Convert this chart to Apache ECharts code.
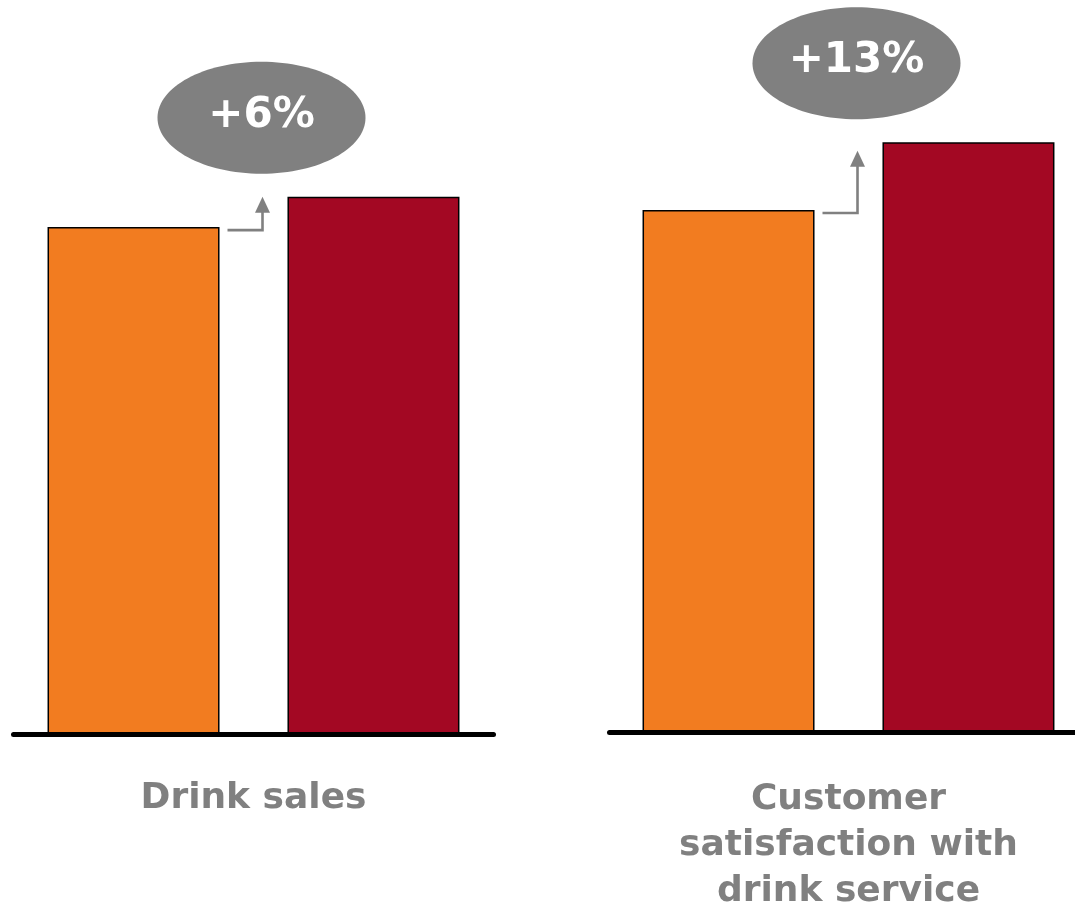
<!DOCTYPE html>
<html>
<head>
<meta charset="utf-8">
<title>Drink sales and customer satisfaction</title>
<script src="https://cdn.jsdelivr.net/npm/echarts@6/dist/echarts.min.js"></script>
<style>
  html, body { margin: 0; padding: 0; background: #ffffff; }
  #chart { width: 1075px; height: 911px; }
</style>
</head>
<body>
<div id="chart"></div>
<script>
// Panel categories and indexed values (before = 100)
const categories = ['Drink sales', 'Customer\nsatisfaction with\ndrink service'];
const before = [100, 100];
const after = [106, 113];

const ORANGE = '#F27C20';
const RED = '#A30823';
const GREY = '#808080';
const FONT = '"DejaVu Sans", "Liberation Sans", Arial, sans-serif';

// Per-panel layout of the two grids
const panels = [
  { left: 13.5, width: 480, top: 49.55, bottom: 176.7, labelMargin: 41 },
  { left: 609.5, width: 478, top: 27.3, bottom: 179, labelMargin: 45 }
];

// Elbow arrow from the first bar to the second, with an oval showing the change
function renderChange(params, api) {
  const b = api.coord([api.value(0), api.value(1)]);
  const a = api.coord([api.value(0), api.value(2)]);
  const cx = b[0], yB = b[1], yA = a[1];
  const pct = Math.round((api.value(2) / api.value(1) - 1) * 100);
  const yConn = yB + 3;
  const tipY = yConn - (0.77 * (yB - yA) + 10);
  const xv = cx + 9;
  const lineStyle = { stroke: GREY, lineWidth: 2.6, fill: null };
  const ex = cx + 8, ey = yA - 79;
  return {
    type: 'group',
    children: [
      { type: 'polyline', shape: { points: [[cx - 26, yConn], [xv, yConn], [xv, tipY + 14]] }, style: lineStyle },
      { type: 'polygon', shape: { points: [[xv, tipY], [xv - 7.5, tipY + 16], [xv + 7.5, tipY + 16]] }, style: { fill: GREY } },
      { type: 'ellipse', shape: { cx: ex, cy: ey, rx: 104, ry: 56 }, style: { fill: GREY } },
      { type: 'text', x: ex, y: ey - 2, style: { text: '+' + pct + '%', fill: '#ffffff', font: 'bold 42px ' + FONT, align: 'center', verticalAlign: 'middle' } }
    ]
  };
}

const grid = panels.map(p => ({
  left: p.left, width: p.width, top: p.top, bottom: p.bottom,
  containLabel: false, outerBoundsMode: 'none'
}));

const xAxis = panels.map((p, i) => ({
  type: 'category',
  gridIndex: i,
  data: [categories[i]],
  z: 3,
  axisLine: { show: true, lineStyle: { color: '#000000', width: 5, cap: 'round' } },
  axisTick: { show: false },
  axisLabel: {
    margin: p.labelMargin,
    color: GREY,
    fontFamily: FONT,
    fontWeight: 'bold',
    fontSize: 36,
    lineHeight: 46,
    align: 'center',
    hideOverlap: false
  }
}));

const yAxis = panels.map((p, i) => ({
  type: 'value',
  gridIndex: i,
  min: 0,
  max: 135,
  show: false,
  splitLine: { show: false }
}));

const series = [];
panels.forEach((p, i) => {
  series.push({
    name: 'Before', type: 'bar', xAxisIndex: i, yAxisIndex: i,
    data: [before[i]], barWidth: 172, barGap: '39.5%',
    itemStyle: { color: ORANGE, borderColor: '#000000', borderWidth: 1.5 }
  });
  series.push({
    name: 'After', type: 'bar', xAxisIndex: i, yAxisIndex: i,
    data: [after[i]], barWidth: 172, barGap: '39.5%',
    itemStyle: { color: RED, borderColor: '#000000', borderWidth: 1.5 }
  });
  series.push({
    name: 'Change', type: 'custom', xAxisIndex: i, yAxisIndex: i,
    data: [[0, before[i], after[i]]],
    encode: { x: 0, y: [1, 2] },
    renderItem: renderChange,
    clip: false,
    z: 4
  });
});

const chart = echarts.init(document.getElementById('chart'), null, { renderer: 'canvas' });
chart.setOption({
  animation: false,
  backgroundColor: '#ffffff',
  grid: grid,
  xAxis: xAxis,
  yAxis: yAxis,
  series: series
});
</script>
</body>
</html>
